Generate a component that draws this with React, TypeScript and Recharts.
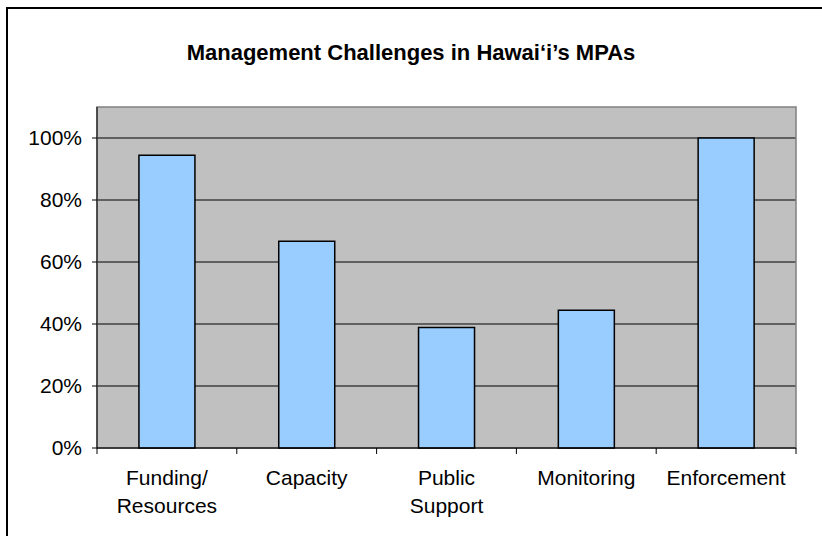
import React from 'react';
import { BarChart, Bar, XAxis, YAxis, CartesianGrid, ReferenceArea } from 'recharts';

const categories = ['Funding/\nResources', 'Capacity', 'Public\nSupport', 'Monitoring', 'Enforcement'];
const shares = [0.944, 0.667, 0.389, 0.444, 1.0];
const yTicks = [0, 0.2, 0.4, 0.6, 0.8, 1.0];

const chartData = categories.map((name, i) => ({ name, value: shares[i] }));

const FONT = 'Liberation Sans, Arial, sans-serif';

// category tick: mark at the band edges, label split on \n
const CategoryTick = (props: any) => {
  const { x, y, payload, index, visibleTicksCount } = props;
  const half = payload.offset || 0;
  const lines = String(payload.value).split('\n');
  const axisY = y - 6;
  return (
    <g>
      <line x1={x - half} x2={x - half} y1={axisY} y2={axisY + 6} stroke="#000" />
      {index === visibleTicksCount - 1 && (
        <line x1={x + half} x2={x + half} y1={axisY} y2={axisY + 6} stroke="#000" />
      )}
      <text x={x} y={axisY + 37} textAnchor="middle" fontSize={21} fontFamily={FONT} fill="#000">
        {lines.map((l, i) => (
          <tspan key={i} x={x} dy={i === 0 ? 0 : 28}>{l}</tspan>
        ))}
      </text>
    </g>
  );
};

export default function App() {
  return (
    <div style={{ position: 'absolute', left: 0, top: 0, width: 822, height: 536, overflow: 'hidden', background: '#fff' }}>
      <div style={{ position: 'absolute', left: 6, top: 7, width: 900, height: 600, borderTop: '2px solid #000', borderLeft: '2px solid #000' }} />
      <div style={{ position: 'absolute', left: 0, top: 40, width: 822, textAlign: 'center', fontFamily: FONT, fontWeight: 'bold', fontSize: 22 }}>
        Management Challenges in Hawai‘i’s MPAs
      </div>
      <div style={{ position: 'absolute', left: 0, top: 0 }}>
        <BarChart width={822} height={536} data={chartData} margin={{ top: 107, right: 26, bottom: 0, left: 0 }} barCategoryGap="30%">
          <CartesianGrid vertical={false} horizontalValues={yTicks} stroke="#000" fill="#C0C0C0" fillOpacity={1} />
          <ReferenceArea y1={0} y2={1.1} fill="none" stroke="#808080" strokeWidth={1.5} />
          <XAxis dataKey="name" height={88} interval={0} tickLine={false} tickSize={6} tickMargin={0} axisLine={{ stroke: '#000' }} tick={<CategoryTick />} />
          <YAxis
            width={97}
            domain={[0, 1.1]}
            ticks={yTicks}
            tickFormatter={(v: number) => `${Math.round(v * 100)}%`}
            tickSize={5}
            tickMargin={10}
            tickLine={{ stroke: '#000' }}
            axisLine={{ stroke: '#000' }}
            tick={{ fill: '#000', fontSize: 21, fontFamily: FONT }}
          />
          <Bar dataKey="value" fill="#99CCFF" stroke="#000" strokeWidth={1.5} isAnimationActive={false} />
        </BarChart>
      </div>
    </div>
  );
}
